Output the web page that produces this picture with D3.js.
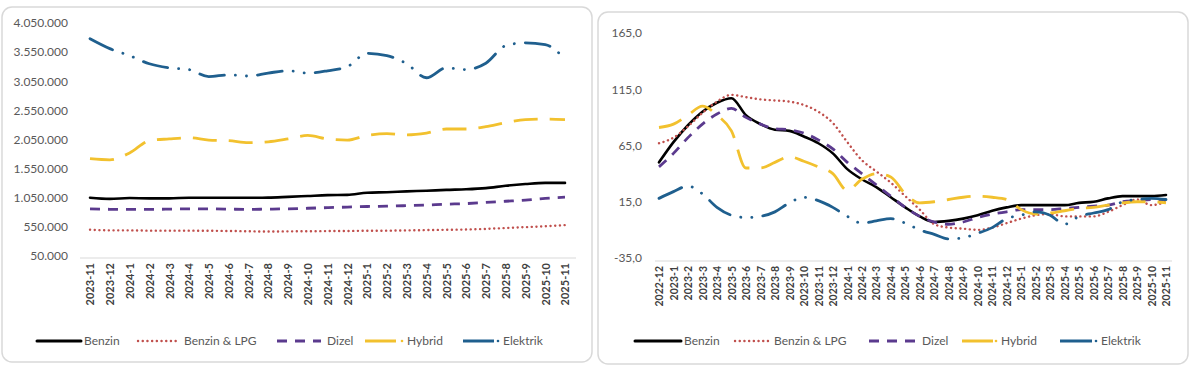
<!DOCTYPE html>
<html><head><meta charset="utf-8">
<script src="https://cdn.jsdelivr.net/npm/d3@7/dist/d3.min.js"></script>
<style>
html,body{margin:0;padding:0;background:#fff;}
svg{display:block;}
text{font-family:Lato,"Open Sans",sans-serif;}
</style></head>
<body>
<svg id="c" width="1200" height="369"></svg>
<script>
// ---------- DATA ----------
const seriesNames = ["Benzin", "Benzin & LPG", "Dizel", "Hybrid", "Elektrik"];

// Left chart: 2023-11 .. 2025-11
const leftCategories = ["2023-11","2023-12","2024-1","2024-2","2024-3","2024-4","2024-5","2024-6","2024-7","2024-8","2024-9","2024-10","2024-11","2024-12","2025-1","2025-2","2025-3","2025-4","2025-5","2025-6","2025-7","2025-8","2025-9","2025-10","2025-11"];
const leftTicks = [50000, 550000, 1050000, 1550000, 2050000, 2550000, 3050000, 3550000, 4050000];
const leftBenzin   = [1050000,1030000,1045000,1040000,1040000,1050000,1050000,1050000,1050000,1052000,1065000,1080000,1095000,1100000,1135000,1145000,1160000,1170000,1185000,1195000,1215000,1255000,1285000,1305000,1305000];
const leftLPG      = [500000,490000,490000,485000,485000,485000,483000,480000,475000,470000,473000,475000,478000,480000,483000,485000,490000,495000,500000,505000,515000,530000,545000,560000,580000];
const leftDizel    = [860000,852000,850000,850000,855000,860000,860000,855000,850000,855000,860000,870000,880000,890000,900000,905000,915000,925000,940000,950000,970000,990000,1010000,1040000,1060000];
const leftHybrid   = [1720000,1700000,1820000,2030000,2060000,2080000,2040000,2030000,1995000,2010000,2060000,2120000,2060000,2040000,2120000,2150000,2130000,2160000,2230000,2230000,2270000,2340000,2390000,2400000,2390000];
const leftElektrik = [3780000,3610000,3490000,3350000,3280000,3250000,3130000,3160000,3140000,3190000,3230000,3190000,3230000,3300000,3530000,3490000,3350000,3110000,3280000,3250000,3360000,3660000,3710000,3680000,3430000];

// Right chart: 2022-12 .. 2025-11
const rightCategories = ["2022-12","2023-1","2023-2","2023-3","2023-4","2023-5","2023-6","2023-7","2023-8","2023-9","2023-10","2023-11","2023-12","2024-1","2024-2","2024-3","2024-4","2024-5","2024-6","2024-7","2024-8","2024-9","2024-10","2024-11","2024-12","2025-1","2025-2","2025-3","2025-4","2025-5","2025-6","2025-7","2025-8","2025-9","2025-10","2025-11"];
const rightTicks = [-35, 15, 65, 115, 165];
const rightBenzin   = [50,68,83,95,103,107,92,84,79,78,73,67,58,44,35,28,19,10,2,-3,-2,0,3,7,10,12,12,12,12,14,15,18,20,20,20,21];
const rightLPG      = [67,72,82,94,104,110,108,106,105,104,101,95,85,68,52,42,32,20,8,-5,-8,-9,-10,-8,-4,0,3,4,2,2,2,6,12,17,12,15];
const rightDizel    = [46,58,72,84,93,98,90,84,80,79,76,70,62,50,40,30,20,10,2,-3,-5,-3,1,4,6,8,8,8,9,10,11,12,15,16,17,17];
const rightHybrid   = [81,84,92,100,92,78,45,45,50,55,51,46,40,25,35,40,37,22,14,15,17,19,20,19,17,8,4,5,7,9,10,12,14,15,15,14];
const rightElektrik = [18,24,29,22,10,3,1,2,6,14,19,16,10,2,-4,-2,0,-4,-10,-14,-18,-17,-13,-8,0,3,6,3,-5,2,5,8,15,17,18,17];

// ---------- STYLE ----------
const styles = [
  {color:"#000000", dash:null, width:2.6, cap:"round"},
  {color:"#c0504d", dash:"0.1,4.6", width:2.4, cap:"round"},
  {color:"#5b3a8e", dash:"10,8", width:2.8, cap:"butt"},
  {color:"#f2c12e", dash:"24,12", width:2.8, cap:"butt"},
  {color:"#1f5f8e", dash:"25,11,0.1,11,0.1,11", width:2.8, cap:"round"}
];

const svg = d3.select("#c");
const locale = d3.formatLocale({decimal:",", thousands:".", grouping:[3], currency:["",""], minus:"-"});

function drawPanel(cfg){
  const g = svg.append("g");
  // card
  g.append("rect").attr("x",cfg.card[0]).attr("y",cfg.card[1]).attr("width",cfg.card[2]).attr("height",cfg.card[3])
    .attr("rx",10).attr("fill","#fff").attr("stroke","#d9d9d9").attr("stroke-width",1.5);

  const x = d3.scalePoint().domain(cfg.categories).range(cfg.xRange);
  const y = d3.scaleLinear().domain(cfg.yDomain).range(cfg.yRange);

  // y axis labels
  const ya = g.append("g").attr("transform",`translate(${cfg.yLabelX},0)`)
    .call(d3.axisLeft(y).tickValues(cfg.ticks).tickSize(0).tickPadding(0).tickFormat(cfg.fmt));
  ya.select(".domain").remove();
  ya.selectAll("text").attr("fill","#595959").style("font-size","12px");

  // x axis
  const xa = g.append("g").attr("transform",`translate(0,${cfg.axisY})`)
    .call(d3.axisBottom(x).tickSize(0).tickPadding(0));
  xa.select(".domain").attr("stroke","#d9d9d9").attr("stroke-width",1.2)
    .attr("d",`M${cfg.axisX[0]},0H${cfg.axisX[1]}`);
  xa.selectAll("text").attr("fill","#404040").style("font-size",cfg.xFont+"px").style("font-weight","bold")
    .attr("text-anchor","end").attr("dy","0.35em")
    .attr("transform",`translate(0,5) rotate(-90)`).attr("x",0).attr("y",0);

  // lines
  const line = d3.line().x((d,i)=>x(cfg.categories[i])).y(d=>y(d)).curve(d3.curveMonotoneX);
  const order = [0,1,2,3,4];
  cfg.series.forEach((s,k)=>{
    const st = styles[k];
    g.append("path").datum(s).attr("d",line).attr("fill","none")
      .attr("stroke",st.color).attr("stroke-width",st.width)
      .attr("stroke-dasharray",st.dash).attr("stroke-linecap",st.cap).attr("stroke-linejoin","round");
  });

  // legend
  const ly = cfg.legendY;
  cfg.legend.forEach((L,k)=>{
    const st = styles[k];
    const lg = g.append("g");
    if(k===3 || k===4){
      lg.append("line").attr("x1",L[0]).attr("x2",L[1]).attr("y1",ly).attr("y2",ly)
        .attr("stroke",st.color).attr("stroke-width",3);
      lg.append("circle").attr("cx",L[2]-5).attr("cy",ly).attr("r",1.3).attr("fill",st.color);
    } else {
      lg.append("line").attr("x1",L[0]).attr("x2",L[1]).attr("y1",ly).attr("y2",ly)
        .attr("stroke",st.color).attr("stroke-width",k===0?3:st.width)
        .attr("stroke-dasharray",st.dash).attr("stroke-linecap",st.cap);
    }
    lg.append("text").attr("x",L[2]).attr("y",ly).attr("dy","0.35em")
      .attr("fill","#595959").style("font-size","12px").text(seriesNames[k]);
  });
}

drawPanel({
  card:[2,7,590,355],
  categories:leftCategories,
  xRange:[90,565],
  yDomain:[50000,4050000], yRange:[256,23],
  ticks:leftTicks, fmt:locale.format(","),
  yLabelX:68, axisY:258, axisX:[80,576], xFont:11,
  series:[leftBenzin,leftLPG,leftDizel,leftHybrid,leftElektrik],
  legendY:341,
  legend:[[37,81,84],[138,178,184],[277,321,327],[365,396,407],[463,494,503]]
});

drawPanel({
  card:[598,12,590,352],
  categories:rightCategories,
  xRange:[659,1166],
  yDomain:[-35,165], yRange:[258,33],
  ticks:rightTicks, fmt:locale.format(",.1f"),
  yLabelX:642, axisY:261, axisX:[655,1172], xFont:10.5,
  series:[rightBenzin,rightLPG,rightDizel,rightHybrid,rightElektrik],
  legendY:341,
  legend:[[635,681,684],[735,769,774],[869,916,922],[962,993,1001],[1060,1092,1101]]
});
</script>
</body></html>
